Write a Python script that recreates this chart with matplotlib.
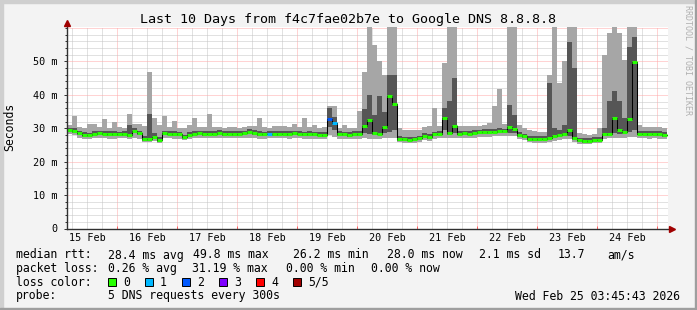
import numpy as np
import matplotlib
matplotlib.use("Agg")
import matplotlib.pyplot as plt
from matplotlib.patches import Rectangle

W, H = 697, 310

# 2-hour steps from Feb 15 04:00 (hours after Feb 15 00:00), one row per day
start_hour = 4
step_hours = 2

median_ms = (
    [29.5, 29.3, 28.6, 28.0, 27.9, 28.3, 28.5, 28.4, 28.3, 28.3]
    + [28.2, 28.3, 28.0, 29.3, 28.5, 26.8, 26.7, 27.5, 26.4, 28.5, 28.4, 28.3]
    + [28.2, 27.3, 28.0, 28.3, 28.5, 28.3, 28.4, 28.4, 28.6, 28.3, 28.4, 28.3]
    + [28.3, 28.5, 28.9, 28.6, 28.3, 28.2, 28.4, 28.3, 28.3, 28.4, 28.3, 28.5]
    + [28.4, 28.2, 28.3, 28.2, 28.1, 28.0, 32.8, 31.7, 28.3, 28.2, 28.0, 28.3]
    + [28.3, 30.8, 32.6, 28.5, 28.4, 30.3, 39.8, 37.4, 26.8, 26.7, 26.6, 26.7]
    + [27.0, 27.8, 27.4, 28.2, 28.4, 33.2, 28.6, 30.6, 28.4, 28.5, 28.4, 28.6]
    + [28.8, 28.9, 28.9, 29.0, 29.2, 29.1, 30.5, 29.9, 28.0, 27.6, 26.9, 26.8]
    + [26.8, 26.9, 27.0, 27.8, 28.0, 28.2, 29.6, 27.0, 26.4, 26.2, 26.2, 26.6]
    + [26.6, 28.4, 28.3, 33.2, 29.6, 29.0, 32.9, 49.7, 28.4, 28.4, 28.3, 28.4, 28.3, 28.0]
)

smoke_min = (
    [28.3, 28.0, 27.2, 26.8, 26.8, 27.0, 27.0, 27.0, 26.9, 26.9]
    + [27.0, 27.0, 26.8, 27.2, 26.8, 25.8, 25.8, 26.2, 25.6, 27.0, 27.0, 26.9]
    + [26.8, 26.4, 26.8, 27.0, 27.0, 27.0, 27.0, 27.0, 27.1, 27.0, 27.0, 27.0]
    + [27.0, 27.0, 27.2, 27.0, 26.9, 26.9, 27.0, 27.0, 27.0, 27.0, 26.9, 27.0]
    + [27.0, 26.8, 26.9, 26.8, 26.8, 26.7, 28.0, 27.5, 26.8, 26.8, 26.7, 26.9]
    + [26.9, 27.0, 26.9, 26.9, 26.9, 27.0, 27.0, 27.0, 25.8, 25.7, 25.6, 25.7]
    + [25.8, 26.4, 26.2, 26.8, 27.0, 27.2, 27.2, 27.2, 27.0, 27.1, 27.0, 27.2]
    + [27.4, 27.5, 27.5, 27.6, 27.8, 27.6, 27.8, 27.6, 26.8, 26.4, 25.8, 25.7]
    + [25.7, 25.7, 25.8, 26.2, 26.6, 26.8, 26.8, 25.8, 25.4, 25.2, 25.2, 25.5]
    + [25.6, 26.9, 27.0, 27.2, 27.2, 27.0, 27.3, 27.3, 27.0, 27.0, 26.9, 27.0, 26.9, 26.8]
)

smoke_max = (
    [31.0, 33.8, 30.4, 30.2, 31.4, 31.4, 30.4, 32.8, 30.2, 32.0]
    + [30.3, 30.2, 34.4, 31.2, 31.2, 30.8, 46.7, 33.2, 31.0, 33.8, 30.5, 32.3]
    + [30.2, 30.0, 31.0, 33.0, 30.3, 30.4, 34.4, 30.3, 30.5, 30.2, 30.4, 30.3]
    + [30.2, 30.4, 30.6, 30.6, 33.2, 30.3, 30.2, 30.6, 30.6, 30.6, 30.3, 31.4]
    + [30.3, 33.0, 30.4, 31.0, 30.2, 30.4, 36.8, 36.8, 30.0, 31.0, 30.0, 30.2]
    + [35.3, 46.7, 60.5, 55.0, 50.0, 46.0, 60.5, 60.5, 30.0, 29.5, 29.4, 29.5]
    + [29.5, 30.4, 30.6, 36.0, 30.8, 49.4, 60.5, 60.5, 30.8, 30.6, 30.6, 30.8]
    + [30.8, 31.0, 31.5, 36.8, 41.9, 31.4, 60.5, 60.5, 31.0, 30.2, 29.5, 29.2]
    + [28.8, 29.0, 45.8, 60.5, 43.4, 50.0, 60.5, 60.5, 28.5, 28.2, 28.0, 28.2]
    + [30.0, 51.8, 58.4, 60.5, 58.4, 50.3, 60.5, 60.5, 31.0, 30.5, 30.4, 30.5, 30.3, 30.2]
)

core_min = (
    [29.0, 28.7, 28.1, 27.5, 27.4, 27.8, 28.0, 27.9, 27.8, 27.8]
    + [27.7, 27.8, 27.5, 28.7, 28.0, 26.3, 26.2, 27.0, 25.9, 28.0, 27.9, 27.8]
    + [27.7, 26.8, 27.5, 27.8, 28.0, 27.8, 27.9, 27.9, 28.1, 27.8, 27.9, 27.8]
    + [27.8, 28.0, 28.3, 28.1, 27.8, 27.7, 27.9, 27.8, 27.8, 27.9, 27.8, 28.0]
    + [27.9, 27.7, 27.8, 27.7, 27.6, 27.5, 30.5, 29.5, 27.8, 27.7, 27.5, 27.8]
    + [27.8, 28.6, 28.3, 27.9, 27.9, 28.5, 29.0, 29.5, 26.3, 26.2, 26.1, 26.2]
    + [26.5, 27.2, 26.9, 27.7, 27.9, 29.5, 28.0, 28.5, 27.9, 28.0, 27.9, 28.1]
    + [28.3, 28.4, 28.4, 28.5, 28.6, 28.5, 28.6, 28.6, 27.5, 27.1, 26.4, 26.3]
    + [26.3, 26.4, 26.5, 27.1, 27.4, 27.6, 27.8, 26.5, 25.9, 25.7, 25.7, 26.1]
    + [26.1, 27.9, 27.8, 28.5, 28.2, 28.2, 28.8, 29.5, 27.9, 27.9, 27.8, 27.9, 27.8, 27.5]
)

core_max = (
    [30.2, 30.0, 29.3, 28.8, 28.7, 29.1, 29.3, 29.2, 29.1, 29.1]
    + [29.0, 29.1, 31.0, 30.0, 29.3, 27.8, 34.4, 28.5, 27.4, 29.3, 29.2, 29.1]
    + [29.0, 28.1, 28.8, 29.1, 29.3, 29.1, 29.2, 29.2, 29.4, 29.1, 29.2, 29.1]
    + [29.1, 29.3, 29.8, 29.4, 29.1, 29.0, 29.2, 29.1, 29.1, 29.2, 29.1, 29.3]
    + [29.2, 29.0, 29.1, 29.0, 28.9, 28.8, 36.2, 33.5, 29.1, 29.0, 28.8, 29.1]
    + [29.1, 35.9, 40.0, 34.0, 39.8, 35.0, 45.8, 45.8, 27.6, 27.5, 27.4, 27.5]
    + [27.8, 28.6, 28.2, 29.0, 29.2, 36.0, 38.3, 44.9, 29.2, 29.3, 29.2, 29.4]
    + [29.6, 29.7, 29.7, 29.8, 30.0, 29.9, 37.0, 34.0, 28.8, 28.4, 27.7, 27.6]
    + [27.6, 27.7, 43.4, 30.0, 29.5, 31.0, 55.7, 47.9, 27.2, 27.0, 27.0, 27.4]
    + [27.4, 30.0, 38.3, 41.3, 38.3, 33.0, 54.2, 57.2, 29.2, 29.2, 29.1, 29.2, 29.1, 28.8]
)

lost_pings = (
    [0, 0, 0, 0, 0, 0, 0, 0, 0, 0]
    + [0, 0, 0, 0, 0, 0, 0, 0, 0, 0, 0, 0]
    + [0, 0, 0, 0, 0, 0, 0, 0, 0, 0, 0, 0]
    + [0, 0, 0, 0, 0, 0, 1, 0, 0, 0, 0, 0]
    + [0, 0, 0, 0, 0, 0, 2, 1, 0, 0, 0, 0]
    + [0, 0, 0, 0, 0, 0, 0, 0, 0, 0, 0, 0]
    + [0, 0, 0, 0, 0, 0, 0, 0, 0, 0, 0, 0]
    + [0, 0, 0, 0, 0, 0, 0, 0, 0, 0, 0, 0]
    + [0, 0, 0, 0, 0, 0, 0, 0, 0, 0, 0, 0]
    + [0, 0, 0, 0, 0, 0, 0, 0, 0, 0, 0, 0, 0, 0]
)

loss_colors = ["#26ff00", "#00b8ff", "#0059ff", "#7e00ff", "#ff0000", "#a10000"]
loss_labels = ["0", "1", "2", "3", "4", "5/5"]
day_labels = ["15 Feb", "16 Feb", "17 Feb", "18 Feb", "19 Feb",
              "20 Feb", "21 Feb", "22 Feb", "23 Feb", "24 Feb"]
y_ticks = [0, 10, 20, 30, 40, 50]

rtt_stats = ["28.4 ms avg", "49.8 ms max", "26.2 ms min", "28.0 ms now", "2.1 ms sd", "13.7", "am/s"]
rtt_x = [107.5, 193, 293, 387, 479, 558, 607]
loss_stats = ["0.26 % avg", "31.19 % max", "0.00 % min", "0.00 % now"]
loss_x = [107.5, 192, 286, 371]
box_x = [108, 145, 182, 219, 256, 293]

MONO = "DejaVu Sans Mono"


def fx(px):
    return px / W


def fy(py):
    return 1 - py / H


fig = plt.figure(figsize=(W / 100, H / 100), dpi=100)
fig.patch.set_facecolor("#f3f3f3")

# 3D-ish frame
fig.patches.append(Rectangle((0, 0), fx(2.5), 1, transform=fig.transFigure, color="#cfcfcf", zorder=0))
fig.patches.append(Rectangle((0, fy(2.5)), 1, fx(2.5) * W / H, transform=fig.transFigure, color="#cfcfcf", zorder=0))
fig.patches.append(Rectangle((fx(694.5), 0), fx(2.5), 1, transform=fig.transFigure, color="#9e9e9e", zorder=0))
fig.patches.append(Rectangle((0, 0), 1, 2.5 / H, transform=fig.transFigure, color="#9e9e9e", zorder=0))

ax_l, ax_r, ax_t, ax_b = 67, 668, 26.7, 228.5
ax = fig.add_axes([fx(ax_l), fy(ax_b), (ax_r - ax_l) / W, (ax_b - ax_t) / H])
ax.set_facecolor("white")

t = start_hour + step_hours * np.arange(len(median_ms) + 1)
x_lo, x_hi = start_hour, start_hour + (ax_r - ax_l) / 2.5
y_top = 60.4
ax.set_xlim(x_lo, x_hi)
ax.set_ylim(0, y_top)

# grid
dot = (0, (1, 1))
for h in np.arange(6, x_hi, 6):
    if h % 24 == 0:
        ax.axvline(h, color="#ffa8a8", lw=0.72, ls=dot, zorder=1)
    else:
        ax.axvline(h, color="#c4c4c4", lw=0.72, ls=dot, zorder=1)
for v in np.arange(2, y_top, 2):
    if v % 10 == 0:
        ax.axhline(v, color="#ffa8a8", lw=0.72, ls=dot, zorder=1)
    else:
        ax.axhline(v, color="#c4c4c4", lw=0.72, ls=dot, zorder=1)


def ext(a):
    return np.append(a, a[-1])


ax.fill_between(t, ext(smoke_min), ext(smoke_max), step="post", color="#a6a6a6", lw=0, zorder=2)
ax.fill_between(t, ext(core_min), ext(core_max), step="post", color="#565656", lw=0, zorder=3)
ax.step(t, ext(median_ms), where="post", color="black", lw=0.75, zorder=4)
ax.hlines(median_ms, t[:-1], t[1:], colors=[loss_colors[n] for n in lost_pings], lw=2.2, zorder=5)

# axes
for s in ["top", "right", "left", "bottom"]:
    ax.spines[s].set_visible(False)
axis_col = "#303030"
ax.plot([0, 1 + 4 / (ax_r - ax_l)], [0, 0], transform=ax.transAxes, color=axis_col, lw=1, clip_on=False, zorder=6)
ax.plot([0, 0], [0, 1 + 4 / (ax_b - ax_t)], transform=ax.transAxes, color=axis_col, lw=1, clip_on=False, zorder=6)
ax.plot([1 + 4 / (ax_r - ax_l)], [0], transform=ax.transAxes, marker=">", ms=5, color="#a00000", clip_on=False, zorder=7)
ax.plot([0], [1 + 4 / (ax_b - ax_t)], transform=ax.transAxes, marker="^", ms=5, color="#a00000", clip_on=False, zorder=7)

ax.set_yticks(y_ticks)
ax.set_yticklabels(["0"] + [f"{v} m" for v in y_ticks[1:]], fontfamily=MONO, fontsize=7.3)
ax.set_yticks(np.arange(0, y_top, 2), minor=True)
ax.tick_params(axis="y", which="major", length=2.5, width=0.7, color=axis_col, pad=4.5)
ax.tick_params(axis="y", which="minor", length=1.5, width=0.7, color=axis_col)
ax.set_xticks(np.arange(24, x_hi, 24))
ax.set_xticklabels([])
ax.tick_params(axis="x", which="major", length=2, width=0.7, color="#ff6060", direction="in")

for k, lab in enumerate(day_labels):
    ax.text(12 + 24 * k, -9.5 / 3.34, lab, ha="center", va="center",
            fontfamily=MONO, fontsize=7.3, clip_on=False)

# texts
fig.text(fx(348), fy(19), "Last 10 Days from f4c7fae02b7e to Google DNS 8.8.8.8",
         ha="center", va="center", fontfamily=MONO, fontsize=9.6)
fig.text(fx(10), fy(127), "Seconds", rotation=90, ha="center", va="center",
         fontfamily=MONO, fontsize=8.3)
fig.text(fx(688), fy(60), "RRDTOOL / TOBI OETIKER", rotation=270, ha="center", va="center",
         fontfamily=MONO, fontsize=6, color="#b0b0b0")

leg = dict(ha="left", va="center", fontfamily=MONO, fontsize=8.3)
fig.text(fx(16), fy(255), "median rtt:", **leg)
for s, x in zip(rtt_stats, rtt_x):
    fig.text(fx(x), fy(255), s, **leg)
fig.text(fx(16), fy(268.5), "packet loss:", **leg)
for s, x in zip(loss_stats, loss_x):
    fig.text(fx(x), fy(268.5), s, **leg)
fig.text(fx(16), fy(282), "loss color:", **leg)
for c, lab, x in zip(loss_colors, loss_labels, box_x):
    fig.patches.append(Rectangle((fx(x), fy(286)), 8 / W, 8 / H, transform=fig.transFigure,
                                 facecolor=c, edgecolor="black", lw=0.7))
    fig.text(fx(x + 15), fy(282), lab, **leg)
fig.text(fx(16), fy(296), "probe:", **leg)
fig.text(fx(107.5), fy(296), "5 DNS requests every 300s", **leg)
fig.text(fx(680), fy(296), "Wed Feb 25 03:45:43 2026", ha="right", va="center",
         fontfamily=MONO, fontsize=8.3)

fig.savefig("out.png", dpi=100, facecolor=fig.get_facecolor())
